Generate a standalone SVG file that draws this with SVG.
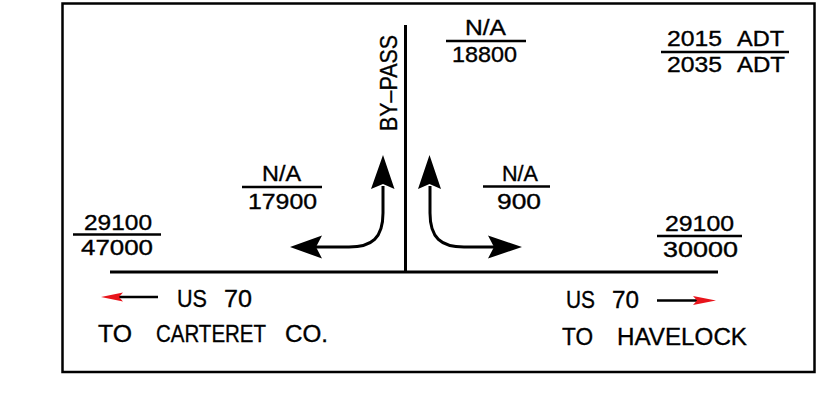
<svg xmlns="http://www.w3.org/2000/svg" width="823" height="399" viewBox="0 0 823 399">
<style>
.t{font-family:"Liberation Sans",Arial,sans-serif;fill:#000;stroke:#000;stroke-width:0.35;text-anchor:start}
.c{text-anchor:middle}
.f{font-size:21.5px}
.l{font-size:24.5px}
.ln{stroke:#000;stroke-width:2.5;fill:none}
.rd{stroke:#000;stroke-width:3;fill:none}
.hd{fill:#000}
.red{fill:#e8141b}
</style>
<rect x="62.5" y="3.5" width="752" height="368.5" fill="#fff" stroke="#000" stroke-width="2.5"/>
<g id="roads">
<line class="rd" x1="110" y1="272" x2="718" y2="272"/>
<line class="rd" x1="405.5" y1="25" x2="405.5" y2="272"/>
</g>
<g id="connectors">
<path class="rd" d="M383,186 V213 C383,238 372,247 349,247 H316"/>
<polygon class="hd" points="383,155 394.5,189 383,184 371,189"/>
<polygon class="hd" points="290,247 322,235.5 316,247 322,258.5"/>
<path class="rd" d="M430,186 V213 C430,238 441,247 464,247 H494"/>
<polygon class="hd" points="429.5,155 441,189 429.5,184 418,189"/>
<polygon class="hd" points="522,247 488,235.5 494,247 488,258.5"/>
<line x1="112" y1="297" x2="158" y2="297" stroke="#000" stroke-width="2.5"/>
<polygon class="red" points="101,297 123,292.5 119,297 123,301.5"/>
<line x1="657" y1="300.5" x2="705" y2="300.5" stroke="#000" stroke-width="2.5"/>
<polygon class="red" points="716,300.5 693,296 697,300.5 693,305"/>
</g>
<g id="legend">
<text class="t f" x="667" y="46" textLength="55" lengthAdjust="spacingAndGlyphs">2015</text>
<text class="t f" x="737" y="46" textLength="47" lengthAdjust="spacingAndGlyphs">ADT</text>
<line class="ln" x1="661" y1="52" x2="789" y2="52"/>
<text class="t f" x="667" y="72" textLength="55" lengthAdjust="spacingAndGlyphs">2035</text>
<text class="t f" x="737" y="72" textLength="48" lengthAdjust="spacingAndGlyphs">ADT</text>
</g>
<g id="bypass-label">
<text class="t c l" transform="translate(397,83) rotate(-90)" x="0" y="0" textLength="96" lengthAdjust="spacingAndGlyphs">BY–PASS</text>
</g>
<g id="bypass-volume">
<text class="t c f" x="485.5" y="35" textLength="41" lengthAdjust="spacingAndGlyphs">N/A</text>
<line class="ln" x1="446" y1="41" x2="526" y2="41"/>
<text class="t c f" x="484.5" y="62" textLength="65" lengthAdjust="spacingAndGlyphs">18800</text>
</g>
<g id="left-turn-volume">
<text class="t c f" x="281.5" y="181" textLength="39" lengthAdjust="spacingAndGlyphs">N/A</text>
<line class="ln" x1="242" y1="187" x2="322" y2="187"/>
<text class="t c f" x="282.5" y="208.5" textLength="69" lengthAdjust="spacingAndGlyphs">17900</text>
</g>
<g id="right-turn-volume">
<text class="t c f" x="520" y="181" textLength="36" lengthAdjust="spacingAndGlyphs">N/A</text>
<line class="ln" x1="483" y1="186.5" x2="550" y2="186.5"/>
<text class="t c f" x="519" y="208.5" textLength="44" lengthAdjust="spacingAndGlyphs">900</text>
</g>
<g id="west-volume">
<text class="t c f" x="118" y="230" textLength="68" lengthAdjust="spacingAndGlyphs">29100</text>
<line class="ln" x1="73" y1="234.5" x2="161" y2="234.5"/>
<text class="t c f" x="117" y="255" textLength="72" lengthAdjust="spacingAndGlyphs">47000</text>
</g>
<g id="east-volume">
<text class="t c f" x="699.5" y="231" textLength="69" lengthAdjust="spacingAndGlyphs">29100</text>
<line class="ln" x1="657" y1="236" x2="742" y2="236"/>
<text class="t c f" x="700.5" y="257" textLength="75" lengthAdjust="spacingAndGlyphs">30000</text>
</g>
<g id="west-label">
<text class="t l" x="177" y="307" textLength="30" lengthAdjust="spacingAndGlyphs">US</text>
<text class="t l" x="224" y="307" textLength="28" lengthAdjust="spacingAndGlyphs">70</text>
<text class="t l" x="98" y="342" textLength="34" lengthAdjust="spacingAndGlyphs">TO</text>
<text class="t l" x="156" y="342" textLength="110" lengthAdjust="spacingAndGlyphs">CARTERET</text>
<text class="t l" x="285" y="342" textLength="43" lengthAdjust="spacingAndGlyphs">CO.</text>
</g>
<g id="east-label">
<text class="t l" x="566" y="308" textLength="29" lengthAdjust="spacingAndGlyphs">US</text>
<text class="t l" x="612" y="308" textLength="27" lengthAdjust="spacingAndGlyphs">70</text>
<text class="t l" x="562" y="345" textLength="31" lengthAdjust="spacingAndGlyphs">TO</text>
<text class="t l" x="617" y="345" textLength="130" lengthAdjust="spacingAndGlyphs">HAVELOCK</text>
</g>
</svg>
